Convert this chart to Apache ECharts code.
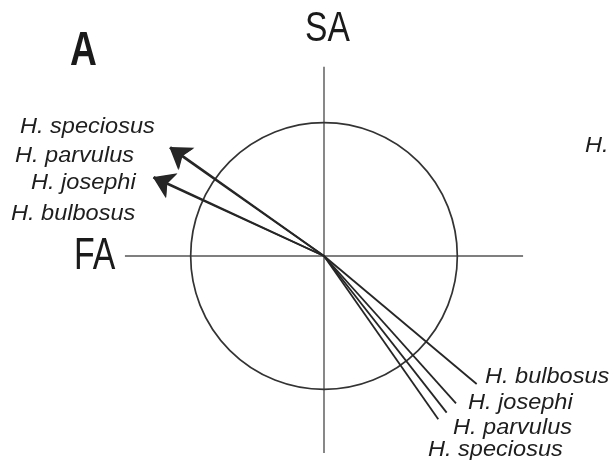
<!DOCTYPE html>
<html>
<head>
<meta charset="utf-8">
<script src="https://cdn.jsdelivr.net/npm/echarts@6/dist/echarts.min.js"></script>
<style>
  html, body { margin: 0; padding: 0; background: #fff; }
  #chart { width: 615px; height: 460px; }
</style>
</head>
<body>
<div id="chart"></div>
<script>
// Species loadings on the FA / SA plane
const species = ['H. speciosus', 'H. parvulus', 'H. josephi', 'H. bulbosus'];

// upper-left vectors (drawn with arrowheads)
const arrowFA = [-1.158, -1.152, -1.281, -1.277];
const arrowSA = [0.811, 0.818, 0.587, 0.593];

// lower-right vectors
const plainFA = [0.857, 0.920, 0.990, 1.145];
const plainSA = [-1.225, -1.175, -1.105, -0.960];

// correlation circle and axis reach, in data units
const circleRadius = 1;
const faReach = [-1.493, 1.493];
const saReach = [-1.478, 1.42];

const axisNames = ['FA', 'SA'];
const panelTag = 'A';

const INK = '#262626';
const chart = echarts.init(document.getElementById('chart'), null, { renderer: 'canvas' });

function vectorData(fa, sa) {
  return fa.map((x, i) => ({ name: species[i], coords: [[0, 0], [x, sa[i]]] }));
}

chart.setOption({
  animation: false,
  backgroundColor: '#ffffff',
  grid: { left: 124, top: 56, width: 400, height: 400 },
  xAxis: {
    type: 'value', min: -1.5, max: 1.5,
    axisLine: { show: false }, axisTick: { show: false },
    axisLabel: { show: false }, splitLine: { show: false }
  },
  yAxis: {
    type: 'value', min: -1.5, max: 1.5,
    axisLine: { show: false }, axisTick: { show: false },
    axisLabel: { show: false }, splitLine: { show: false }
  },
  series: [
    {
      name: 'FA axis', type: 'line', silent: true, showSymbol: false,
      data: [[faReach[0], 0], [faReach[1], 0]],
      lineStyle: { color: '#555', width: 1.4 }, z: 1
    },
    {
      name: 'SA axis', type: 'line', silent: true, showSymbol: false,
      data: [[0, saReach[1]], [0, saReach[0]]],
      lineStyle: { color: '#555', width: 1.4 }, z: 1
    },
    {
      name: 'arrowed', type: 'lines', coordinateSystem: 'cartesian2d',
      symbol: ['none', 'arrow'], symbolSize: [27, 20],
      lineStyle: { color: INK, width: 1.8, opacity: 1 },
      itemStyle: { color: '#111' },
      data: vectorData(arrowFA, arrowSA), z: 3
    },
    {
      name: 'plain', type: 'lines', coordinateSystem: 'cartesian2d',
      symbol: ['none', 'none'],
      lineStyle: { color: INK, width: 1.8, opacity: 1 },
      data: vectorData(plainFA, plainSA), z: 3
    }
  ]
});

// Correlation circle drawn through the grid's own scale
const c0 = chart.convertToPixel({ gridIndex: 0 }, [0, 0]);
const c1 = chart.convertToPixel({ gridIndex: 0 }, [circleRadius, 0]);
const rPx = c1[0] - c0[0];

const labelFont = 'italic 22px "Liberation Sans", Arial, sans-serif';
function label(text, x, y) {
  return {
    type: 'text', x: x, y: y, scaleX: 1.07, z: 10,
    style: { text: text, font: labelFont, fill: '#1e1e1e', align: 'left', verticalAlign: 'middle' }
  };
}
function heading(text, x, y, size, weight, sx) {
  return {
    type: 'text', x: x, y: y, scaleX: sx, z: 10,
    style: {
      text: text, font: weight + ' ' + size + 'px "Liberation Sans", Arial, sans-serif',
      fill: '#1a1a1a', align: 'left', verticalAlign: 'middle'
    }
  };
}

const leftPos = [[20, 127], [15, 155.5], [31, 183], [11, 213.5]];
const rightPos = [[428, 449.5], [453, 427.5], [468, 403], [485, 376.5]];

const graphics = [
  {
    type: 'circle', z: 2, silent: true,
    shape: { cx: c0[0], cy: c0[1], r: rPx },
    style: { fill: 'none', stroke: '#333', lineWidth: 1.7 }
  }
];
species.forEach((s, i) => {
  graphics.push(label(s, leftPos[i][0], leftPos[i][1]));
  graphics.push(label(s, rightPos[i][0], rightPos[i][1]));
});
graphics.push(label('H.', 585, 145.5));
graphics.push(heading(axisNames[0], 74, 257, 44, 'normal', 0.77));
graphics.push(heading(axisNames[1], 305, 29, 42, 'normal', 0.8));
graphics.push(heading(panelTag, 70, 51, 49, 'bold', 0.76));

chart.setOption({ graphic: { elements: graphics } });
</script>
</body>
</html>
